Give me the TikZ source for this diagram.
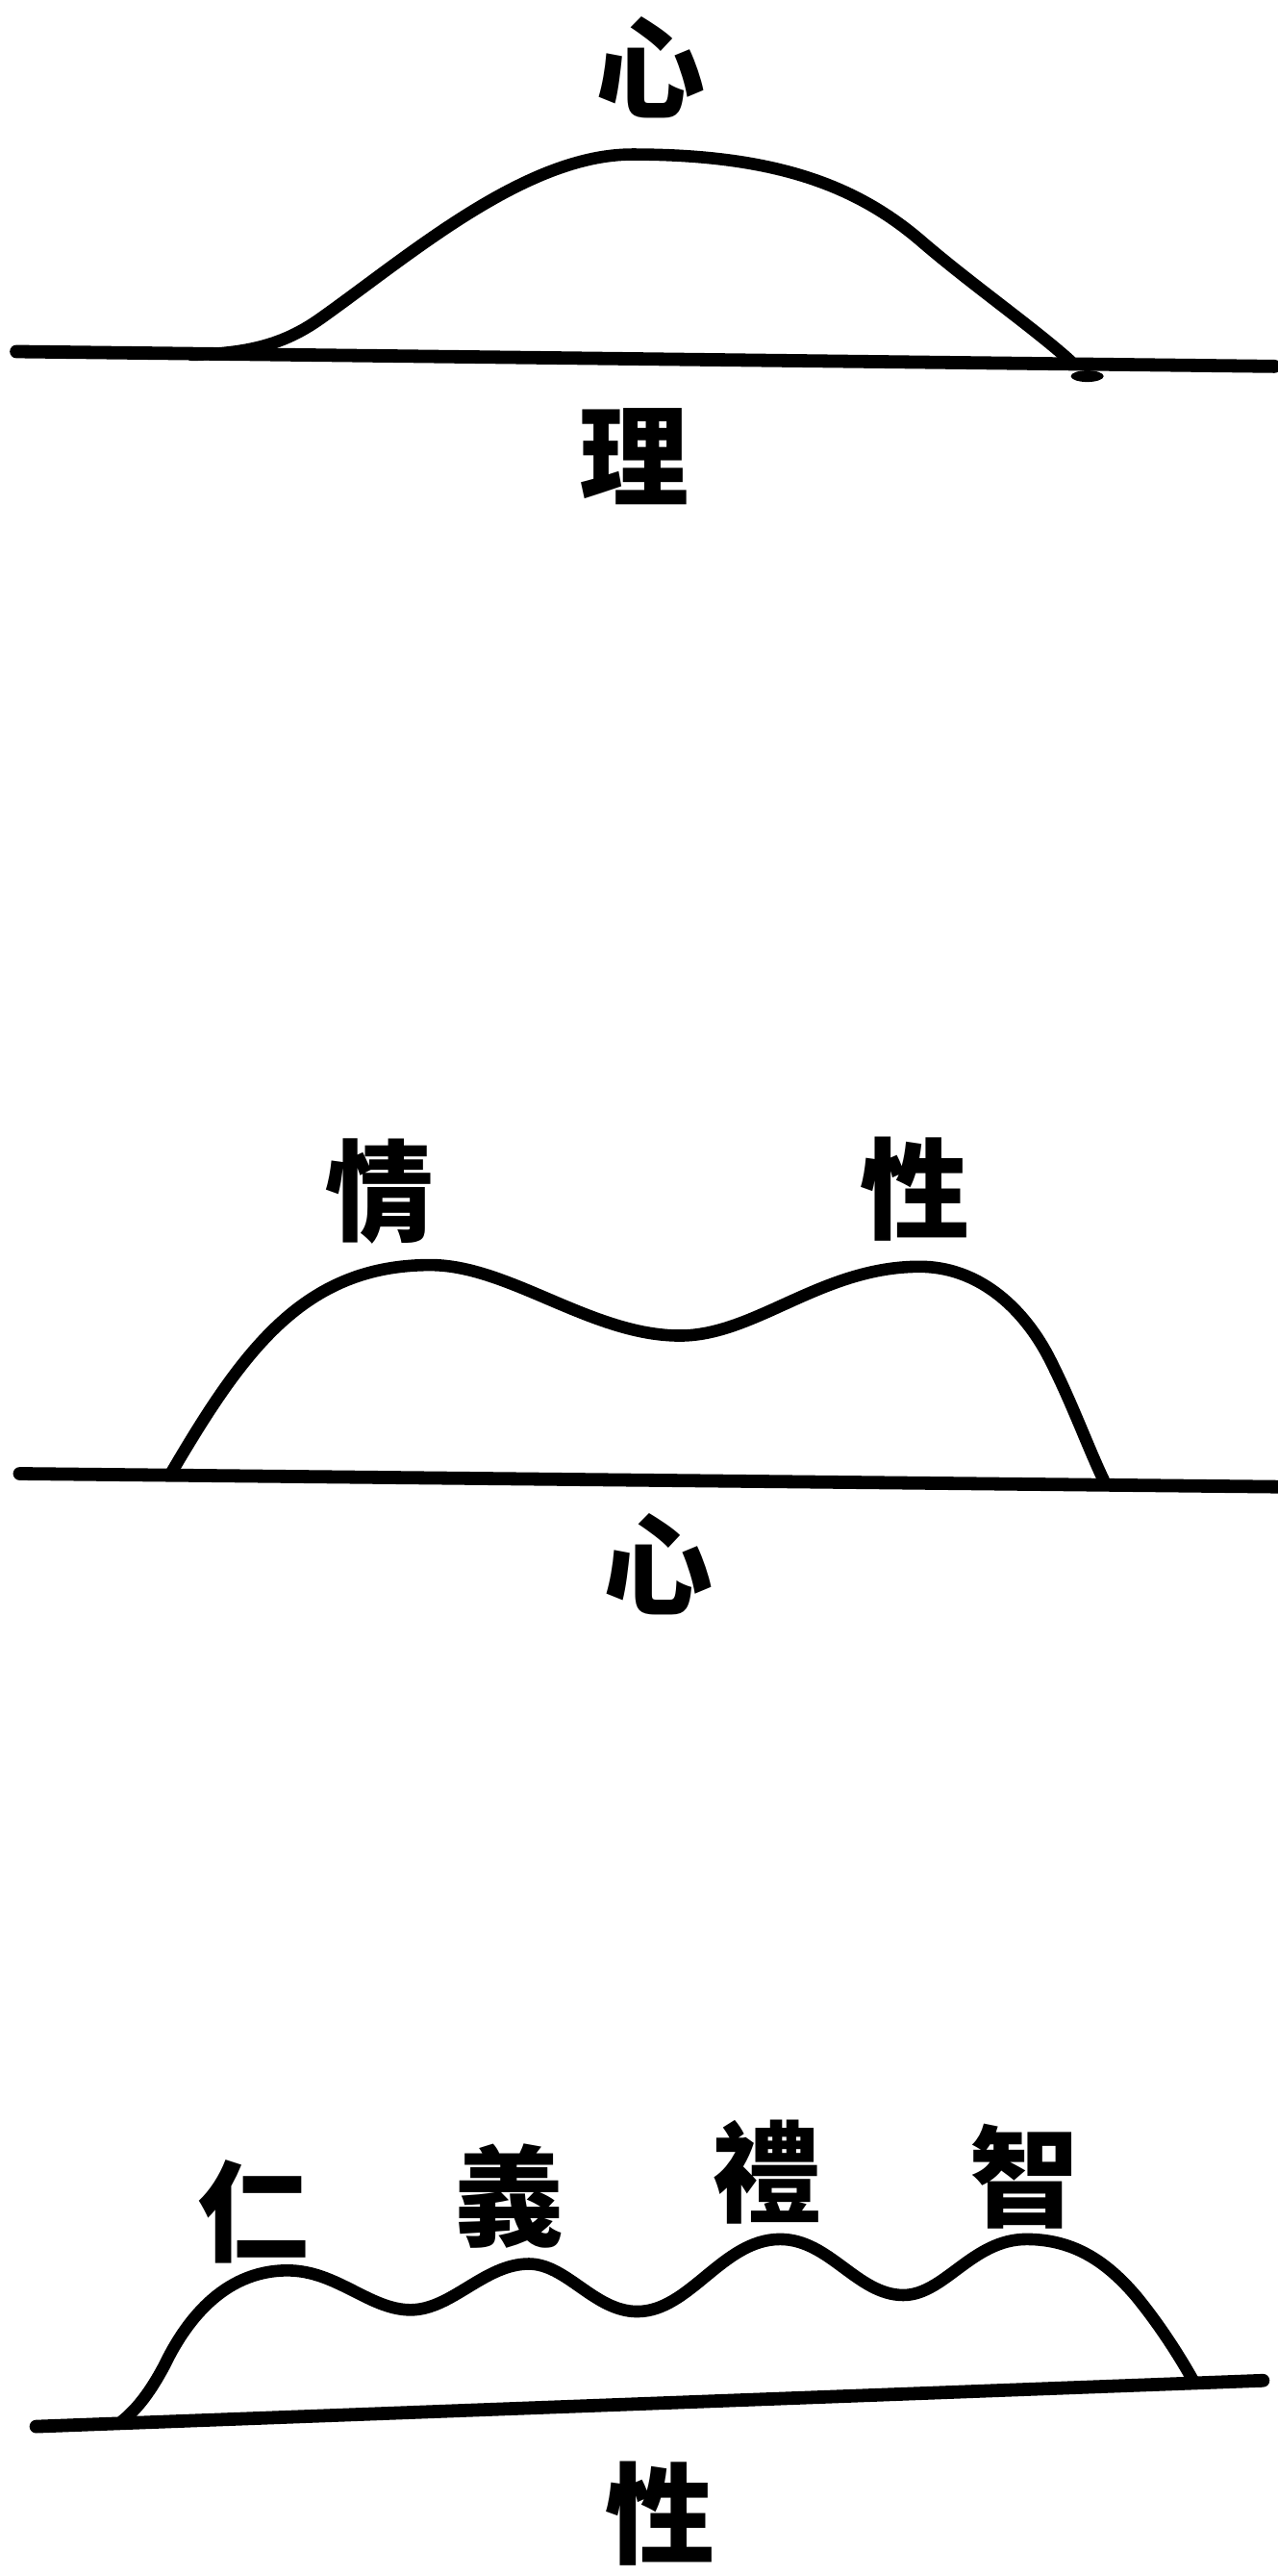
\documentclass[tikz,border=0pt]{standalone}
\usepackage{fontspec}
\newfontfamily\cjk{Noto Sans CJK TC}
\begin{document}
\begin{tikzpicture}[x=0.02cm,y=-0.02cm,
  base/.style={line width=4.6pt, line cap=round},
  hill/.style={line width=4.2pt, line cap=round, line join=round},
  lbl/.style={font=\cjk\bfseries\fontsize{38pt}{38pt}\selectfont, inner sep=0pt}]
\fill[white] (0,0) rectangle (778,1568);
\useasboundingbox (0,0) rectangle (778,1568);

% ---- diagram 1 ----
\node[lbl] (xinA) at (396,41) {心};
\node[lbl] (li) at (386,278) {理};
\coordinate (b1l) at (10,214);
\coordinate (b1r) at (776,223);
\draw[base] (b1l) -- (b1r);
\draw[hill] (117,216) .. controls (150,215) and (172,210.3) .. (195,194)
  .. controls (250,155) and (320,94) .. (385,94)
  .. controls (470,94) and (520,112) .. (560,146)
  .. controls (590,172) and (630,200) .. (652,220);
\fill (662,229) ellipse (10 and 3.5);

% ---- diagram 2 ----
\node[lbl] (qing) at (231,725) {情};
\node[lbl] (xingA) at (557,724) {性};
\node[lbl] (xinB) at (401,952) {心};
\coordinate (b2l) at (12,897);
\coordinate (b2r) at (778,905);
\draw[base] (b2l) -- (b2r);
\draw[hill] (104,897) .. controls (148,822) and (185,770) .. (262,770)
  .. controls (310,770) and (360,813) .. (414,813)
  .. controls (460,813) and (500,771) .. (560,771)
  .. controls (595,771) and (622,795) .. (638,825)
  .. controls (652,852) and (662,880) .. (672,901);

% ---- diagram 3 ----
\node[lbl] (ren) at (154,1346) {仁};
\node[lbl] (yi) at (310,1337) {義};
\node[lbl] (lii) at (467,1322) {禮};
\node[lbl] (zhi) at (624,1325) {智};
\node[lbl] (xingB) at (402,1530) {性};
\coordinate (b3l) at (22,1477);
\coordinate (b3r) at (769,1449);
\draw[base] (b3l) -- (b3r);
\draw[hill] (74,1474) .. controls (84,1466) and (92,1455) .. (100,1440)
  .. controls (112,1415) and (135,1382) .. (175,1382)
  .. controls (205,1382) and (225,1406) .. (250,1406)
  .. controls (275,1406) and (295,1378) .. (322,1378)
  .. controls (345,1378) and (362,1407) .. (388,1407)
  .. controls (420,1407) and (440,1363) .. (475,1363)
  .. controls (505,1363) and (522,1397) .. (550,1397)
  .. controls (575,1397) and (592,1363) .. (625,1363)
  .. controls (655,1363) and (675,1378) .. (692,1398)
  .. controls (705,1414) and (717,1432) .. (727,1450);
\end{tikzpicture}
\end{document}
